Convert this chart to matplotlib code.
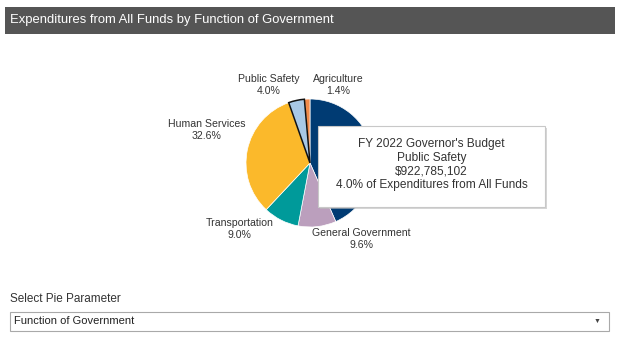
import matplotlib.pyplot as plt
from matplotlib.patches import Rectangle

plt.rcParams["font.family"] = ["Liberation Sans", "DejaVu Sans"]

TITLE = "Expenditures from All Funds by Function of Government"
CATEGORIES = ["Education", "General Government", "Transportation",
              "Human Services", "Public Safety", "Agriculture"]
SHARES = [43.4, 9.6, 9.0, 32.6, 4.0, 1.4]
COLORS = ["#003b73", "#bb9fbd", "#009a9a", "#fbb92b", "#a8c8e6", "#f08a4b"]
HOVERED = "Public Safety"
TOOLTIP = ["FY 2022 Governor's Budget", "Public Safety", "$922,785,102",
           "4.0% of Expenditures from All Funds"]
SELECT_LABEL = "Select Pie Parameter"
SELECT_VALUE = "Function of Government"

# label anchors in pie units (radius = 1); the first slice's label sits
# under the tooltip in the reference, so it is not drawn
LABEL_POS = {
    "General Government": (0.80, -1.19),
    "Transportation": (-1.10, -1.03),
    "Human Services": (-1.62, 0.52),
    "Public Safety": (-0.65, 1.22),
    "Agriculture": (0.44, 1.22),
}

W, H = 620, 340
fig = plt.figure(figsize=(W / 100, H / 100), dpi=100)

# page layer in pixel coordinates
bg = fig.add_axes([0, 0, 1, 1])
bg.set_xlim(0, W)
bg.set_ylim(H, 0)
bg.axis("off")
bg.add_patch(Rectangle((5, 7), 610, 27, color="#555555", lw=0))
bg.text(10, 20.5, TITLE, color="white", fontsize=9.4, va="center", ha="left")

bg.text(10, 299, SELECT_LABEL, color="#333333", fontsize=8.5, va="center")
bg.add_patch(Rectangle((10, 312), 599, 19, fc="white", ec="#a9a9a9", lw=0.8))
bg.text(14, 321.5, SELECT_VALUE, color="#222222", fontsize=8.0, va="center")
bg.text(597, 321.5, "\u25bc", color="#444444", fontsize=5, va="center", ha="center")

# pie
cx, cy, r = 310, 163, 64
pie_ax = fig.add_axes([(cx - r) / W, 1 - (cy + r) / H, 2 * r / W, 2 * r / H])
wedges, _ = pie_ax.pie(SHARES, colors=COLORS, startangle=90, counterclock=False,
                       wedgeprops=dict(edgecolor="white", linewidth=0.5))
for w, name in zip(wedges, CATEGORIES):
    if name == HOVERED:
        w.set_edgecolor("#111111")
        w.set_linewidth(1.1)
        w.set_zorder(3)
for name, val in zip(CATEGORIES, SHARES):
    if name not in LABEL_POS:
        continue
    x, y = LABEL_POS[name]
    pie_ax.text(x, y, f"{name}\n{val:.1f}%", ha="center", va="center",
                fontsize=7.6, color="#333333", linespacing=1.2, clip_on=False)
pie_ax.set_xlim(-1, 1)
pie_ax.set_ylim(-1, 1)
pie_ax.set_aspect("equal")
pie_ax.axis("off")

# tooltip overlay
top = fig.add_axes([0, 0, 1, 1])
top.set_xlim(0, W)
top.set_ylim(H, 0)
top.axis("off")
top.add_patch(Rectangle((320, 128), 227, 81, fc="#bbbbbb", ec="none", alpha=0.6))
top.add_patch(Rectangle((318, 126), 227, 81, fc="white", ec="#c8c8c8", lw=0.8))
for i, line in enumerate(TOOLTIP):
    top.text(431.5, 144 + i * 13.7, line, ha="center", va="center",
             fontsize=8.6, color="#333333")

fig.savefig("out.png", dpi=100)
